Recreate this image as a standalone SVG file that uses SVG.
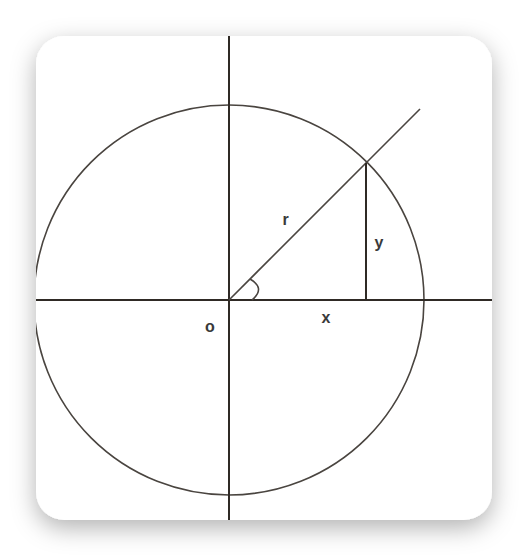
<svg xmlns="http://www.w3.org/2000/svg" width="528" height="556" viewBox="0 0 528 556">
  <style>
    .axis { stroke: #2f2a25; stroke-width: 2; fill: none; }
    .line { stroke: #4a4540; stroke-width: 1.6; fill: none; }
    .lbl { font-family: "Liberation Sans", Arial, sans-serif; font-size: 16px; font-weight: bold; fill: #3a3a3a; text-anchor: middle; }
  </style>
  <defs>
    <filter id="shadow" x="-20%" y="-20%" width="140%" height="140%">
      <feDropShadow dx="0" dy="8" stdDeviation="12" flood-color="#000" flood-opacity="0.3"/>
    </filter>
    <clipPath id="card">
      <rect x="36" y="36" width="456" height="484" rx="28" ry="28"/>
    </clipPath>
  </defs>
  <rect x="0" y="0" width="528" height="556" fill="#ffffff"/>
  <rect id="card-bg" x="36" y="36" width="456" height="484" rx="28" ry="28" fill="#ffffff" filter="url(#shadow)"/>
  <g clip-path="url(#card)">
    <g id="circle"><circle cx="229" cy="300" r="195" class="line"/></g>
    <g id="connectors">
      <line class="axis" x1="36" y1="300" x2="492" y2="300"/>
      <line class="axis" x1="229" y1="36" x2="229" y2="520"/>
      <line class="line" x1="229" y1="300" x2="420" y2="109"/>
      <line class="axis" x1="366" y1="163" x2="366" y2="300"/>
      <path class="line" d="M252,300 Q266,288 250,279"/>
    </g>
    <g id="labels">
      <text class="lbl" x="285.5" y="225">r</text>
      <text class="lbl" x="379" y="248">y</text>
      <text class="lbl" x="210" y="332">o</text>
      <text class="lbl" x="326" y="323">x</text>
    </g>
  </g>
</svg>
